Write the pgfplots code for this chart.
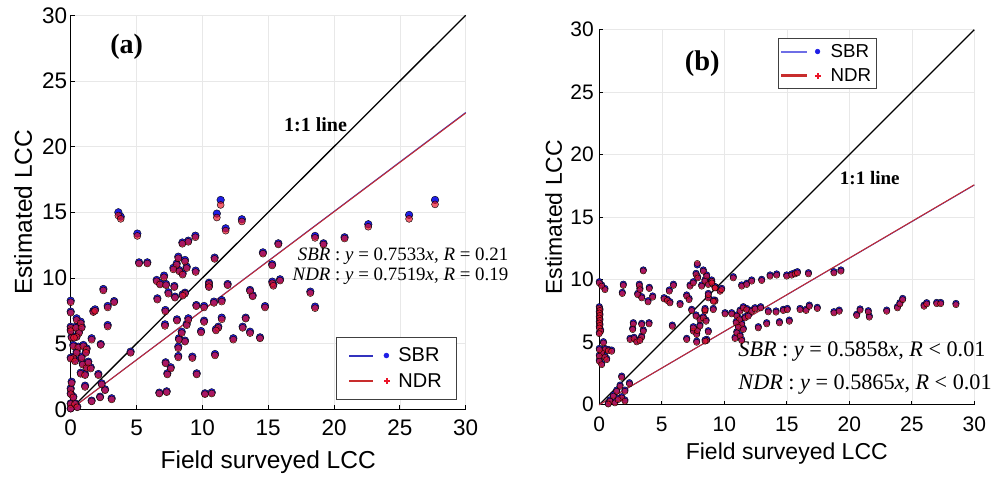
\documentclass[border=0pt]{standalone}
\usepackage{fontspec}
\setmainfont{Liberation Sans}
\newfontfamily\serif{Liberation Serif}
\usepackage{pgfplots}
\pgfplotsset{compat=1.18}
\usepackage{pgfplotstable}

\definecolor{sbrpt}{RGB}{30,30,230}
\definecolor{ndrpt}{RGB}{235,20,40}
\definecolor{sbrln}{RGB}{50,50,190}
\definecolor{sbrlnb}{RGB}{110,110,230}
\definecolor{ndrln}{RGB}{200,45,45}

\pgfplotstableread{
x s n
11.39 15.94 15.56
27.67 15.94 15.6
3.62 15.0 14.75
3.8 14.67 14.5
11.1 14.9 14.6
13.0 14.47 14.3
25.7 14.8 14.5
11.77 13.78 13.6
22.6 14.09 13.9
5.06 13.38 13.2
18.56 13.2 13.05
20.8 13.1 13.0
19.2 12.64 12.55
15.77 12.64 12.55
9.47 13.22 13.1
8.93 12.84 12.75
8.48 12.7 12.6
14.6 11.95 11.85
5.19 11.19 11.1
5.82 11.19 11.1
10.93 11.55 11.45
15.3 11.05 10.95
8.17 11.62 11.5
8.68 11.37 11.25
8.05 11.1 11.0
7.8 10.77 10.65
8.25 10.6 10.5
8.5 10.35 10.25
8.81 10.86 10.75
9.49 10.56 10.45
6.53 9.85 9.75
7.09 10.18 10.05
6.78 9.59 9.5
7.24 9.54 9.45
7.87 9.39 9.3
10.5 9.64 9.55
10.5 9.39 9.3
11.92 9.54 9.45
6.58 8.45 8.35
7.42 8.91 8.8
7.92 8.58 8.5
8.68 8.88 8.8
8.5 8.75 8.65
7.19 7.56 7.45
9.54 7.94 7.85
10.13 7.87 7.75
10.88 8.2 8.1
11.47 8.32 8.2
8.07 6.85 6.75
8.93 6.93 6.8
8.81 6.5 6.4
7.16 6.47 6.35
10.13 6.75 6.65
11.47 6.98 6.85
13.29 6.98 6.9
13.06 6.29 6.2
11.21 6.29 6.2
11.03 6.11 6.0
9.9 5.96 5.85
8.43 5.91 5.8
13.62 5.91 5.8
12.35 5.41 5.3
14.38 5.48 5.4
8.22 5.41 5.3
8.68 5.23 5.15
8.17 4.77 4.65
8.17 4.06 3.95
9.24 4.01 3.9
10.96 4.21 4.1
7.21 3.58 3.5
7.6 3.2 3.1
7.34 2.74 2.65
9.57 2.74 2.65
6.73 1.27 1.2
7.29 1.37 1.3
10.2 1.22 1.15
10.71 1.29 1.2
4.55 4.39 4.3
13.62 9.09 9.0
13.82 8.68 8.6
14.76 7.86 7.75
15.31 9.72 9.6
15.39 9.51 9.4
15.9 9.9 9.8
18.2 8.96 8.85
18.56 7.82 7.7
0 8.27 8.15
0 7.44 7.35
0 6.29 6.2
0 6.04 5.95
0.07 5.53 5.45
0.45 6.93 6.8
0.76 6.67 6.55
0.4 6.29 6.2
0.83 6.29 6.2
0.63 5.91 5.8
0.45 5.58 5.5
0.25 5.53 5.45
0.2 4.9 4.8
0.58 4.77 4.7
0.45 4.39 4.3
0.2 4.01 3.9
0 3.93 3.85
0.33 3.76 3.65
0.96 4.9 4.8
1.21 4.64 4.55
1.59 5.41 5.3
1.72 7.49 7.4
1.85 7.61 7.5
2.28 4.97 4.9
2.48 9.16 9.05
2.81 7.87 7.75
3.3 8.24 8.15
2.81 6.42 6.3
0.83 4.01 3.9
1.16 4.39 4.3
0.91 3.5 3.4
1.21 3.25 3.15
1.34 3.63 3.55
0.76 2.79 2.7
1.52 3.2 3.1
1.09 2.69 2.6
2.1 2.69 2.6
2.35 1.98 1.9
2.61 1.52 1.45
1.09 1.8 1.7
2.23 0.96 0.9
3.11 0.84 0.75
1.59 0.66 0.6
0 1.6 1.5
0 1.22 1.15
0.07 2.1 2.0
0.2 0.96 0.9
0 0.45 0.4
0 0.07 0.05
0.33 0.45 0.4
0.5 0.2 0.15
}\dataA

\pgfplotstableread{
x s n
0 9.84 9.74
0.19 9.58 9.48
0.45 9.3 9.2
0 7.84 7.74
0.05 7.64 7.54
0 7.44 7.34
0.05 7.24 7.14
0 7.04 6.94
0.05 6.84 6.74
0 6.64 6.54
0.05 6.44 6.34
0 6.24 6.14
0.11 5.98 5.88
0 5.78 5.68
0.33 5.04 4.94
0.45 4.5 4.4
0.72 4.42 4.32
0.99 4.37 4.27
0.19 4.24 4.14
0 4.5 4.4
0 3.97 3.87
0.45 3.9 3.8
0 3.57 3.47
0.19 3.3 3.2
0.59 3.7 3.6
1.79 2.29 2.19
2.41 1.76 1.66
1.66 1.57 1.47
1.39 1.17 1.07
2.05 1.17 1.07
1.12 0.78 0.68
1.79 0.64 0.54
0.85 0.38 0.28
0.72 0.11 0.05
2.05 0.38 0.28
1.25 0.24 0.14
1.5 0.5 0.4
3.52 10.78 10.7
1.92 9.64 9.54
1.84 8.99 8.89
3.2 9.64 9.54
3.25 9.3 9.2
3.07 8.9 8.8
3.39 8.64 8.54
4.0 9.39 9.29
4.27 8.7 8.6
3.9 8.32 8.22
5.18 8.56 8.46
5.44 8.43 8.33
5.65 8.24 8.14
5.6 9.18 9.08
5.93 9.64 9.54
6.46 8.1 8.0
2.72 6.56 6.46
2.67 6.11 6.01
3.39 6.51 6.41
3.52 5.98 5.88
3.98 6.56 6.46
2.46 5.31 5.21
2.78 5.39 5.29
2.99 5.12 5.02
3.39 5.49 5.39
3.25 5.23 5.13
5.84 6.37 6.27
6.99 8.78 8.68
7.26 9.58 9.48
7.18 8.5 8.4
7.84 11.18 11.3
7.74 10.51 10.41
7.87 10.24 10.14
8.32 10.78 10.68
8.59 10.38 10.28
8.45 9.98 9.88
8.72 9.71 9.61
8.99 9.98 9.88
9.25 9.45 9.35
7.52 9.84 9.74
8.19 9.58 9.48
7.39 7.63 7.53
7.74 7.18 7.08
8.05 6.9 6.8
8.45 7.57 7.47
8.32 7.04 6.94
8.54 6.77 6.67
9.12 7.7 7.6
9.25 8.37 8.27
8.72 8.64 8.54
7.52 5.98 5.88
7.79 5.71 5.61
7.84 6.03 5.93
8.05 6.38 6.28
8.72 5.92 5.82
6.99 5.31 5.21
7.79 5.09 4.99
8.59 5.23 5.13
7.52 6.24 6.14
9.0 9.84 9.74
9.26 9.44 9.34
9.66 9.17 9.07
8.72 8.9 8.8
9.12 8.37 8.27
8.46 7.7 7.6
8.46 5.18 5.08
9.79 9.31 9.21
10.72 10.24 10.14
11.39 9.58 9.48
11.79 9.71 9.61
12.19 9.98 9.88
12.99 10.03 9.93
13.66 10.38 10.28
14.19 10.46 10.36
14.99 10.38 10.28
15.39 10.46 10.36
15.66 10.56 10.46
15.85 10.64 10.54
16.73 10.56 10.46
18.77 10.64 10.54
19.33 10.78 10.68
10.06 7.36 7.26
10.59 7.36 7.26
11.26 7.57 7.47
11.52 7.84 7.74
11.79 7.7 7.6
12.19 7.57 7.47
12.46 7.76 7.66
12.91 7.84 7.74
13.52 7.52 7.42
14.14 7.5 7.4
14.72 7.63 7.53
15.04 7.7 7.6
16.06 7.7 7.6
16.54 7.63 7.53
16.8 7.97 7.87
17.44 7.79 7.69
18.77 7.44 7.34
19.19 7.57 7.47
20.59 7.23 7.13
20.86 7.66 7.56
21.52 7.52 7.42
21.6 7.1 7.0
22.99 7.57 7.47
23.85 7.84 7.74
24.05 8.16 8.06
24.27 8.5 8.4
25.98 7.97 7.87
26.19 8.16 8.06
26.99 8.18 8.08
27.31 8.18 8.08
28.53 8.1 8.0
11.0 7.18 7.08
11.21 6.9 6.8
10.95 6.64 6.54
11.39 6.51 6.41
11.12 6.3 6.2
11.52 6.11 6.01
11.0 5.84 5.74
11.26 5.58 5.48
10.86 5.39 5.29
11.39 5.23 5.13
11.66 7.04 6.94
11.92 7.18 7.08
12.72 6.24 6.14
13.39 6.56 6.46
14.41 6.64 6.54
15.2 6.77 6.67
}\dataB

\pgfplotsset{
  myax/.style={
    scale only axis, xmin=0, xmax=30, ymin=0, ymax=30,
    xtick={0,5,...,30}, ytick={0,5,...,30},
    axis x line*=bottom, axis y line*=left,
    grid=major, grid style={gray!18, line width=0.5pt},
    axis line style={black, line width=1pt},
    tick align=inside, major tick length=4pt,
    tick style={black, line width=0.8pt},
    clip=false,
    /pgf/number format/assume math mode=true,
    xlabel={Field surveyed LCC}, ylabel={Estimated LCC},
    legend cell align=left,
  },
}

\begin{document}
\begin{tikzpicture}
\useasboundingbox (0,0) rectangle (995pt,478pt);

% ---------------- panel (a)
\begin{axis}[myax,
  at={(70.7pt,68.7pt)}, anchor=south west,
  width=395pt, height=394pt,
  tick label style={font=\fontsize{22.5}{27}\selectfont},
  xticklabel style={yshift=-7pt},
  label style={font=\fontsize{24.5}{29}\selectfont},
  xlabel style={at={(axis description cs:0.5,-0.149)}, anchor=base},
  ylabel style={at={(axis description cs:-0.098,0.5)}, anchor=base},
  legend style={at={(0.978,0.024)}, anchor=south east, draw=black!75,
    line width=0.6pt, font=\fontsize{20}{24}\selectfont,
    nodes={inner sep=2pt},
    inner xsep=13pt, inner ysep=9pt, row sep=6pt},
]
\addplot[only marks, mark=*, mark size=3.8pt, mark options={draw=none, fill=sbrpt}, forget plot] table[x=x, y=s] {\dataA};
\addplot[only marks, mark=*, mark size=3.5pt, mark options={draw=none, fill=ndrpt, fill opacity=0.68}, forget plot] table[x=x, y=n] {\dataA};
\addplot[black, line width=1.3pt, forget plot] coordinates {(0,0) (30,30)};
\addplot[sbrln, line width=1pt, forget plot] coordinates {(0,0) (30,22.599)};
\addplot[ndrln, line width=1pt, forget plot] coordinates {(0,0) (30,22.557)};
\addlegendimage{legend image code/.code={
  \path[draw=none, fill=none] (0pt,-3pt) rectangle (47pt,3pt);
  \fill[sbrln] (0pt,-0.7pt) rectangle (23pt,0.7pt);
  \fill[sbrpt] (37pt,0pt) circle (2.4pt);}}
\addlegendentry{SBR}
\addlegendimage{legend image code/.code={
  \path[draw=none, fill=none] (0pt,-3pt) rectangle (47pt,3pt);
  \fill[ndrln] (0pt,-0.7pt) rectangle (23pt,0.7pt);
  \fill[ndrpt] (34.5pt,-0.5pt) rectangle (39.5pt,0.5pt);
  \fill[ndrpt] (36.5pt,-2.5pt) rectangle (37.5pt,2.5pt);}}
\addlegendentry{NDR}
\node[font=\serif\bfseries\fontsize{28}{32}\selectfont] at (axis cs:4.25,27.6) {(a)};
\node[font=\serif\bfseries\fontsize{20}{24}\selectfont] at (axis cs:18.6,21.64) {1:1 line};
\node[anchor=base east, font=\serif\fontsize{18.9}{22}\selectfont] at (axis cs:33.5,11.36)
  {\textit{SBR} : \textit{y} = 0.7533\textit{x}, \textit{R} = 0.21};
\node[anchor=base east, font=\serif\fontsize{18.9}{22}\selectfont] at (axis cs:33.5,9.84)
  {\textit{NDR} : \textit{y} = 0.7519\textit{x}, \textit{R} = 0.19};
\end{axis}

% ---------------- panel (b)
\begin{axis}[myax,
  at={(599.3pt,73.3pt)}, anchor=south west,
  width=375pt, height=375pt,
  tick label style={font=\fontsize{21}{25}\selectfont},
  xticklabel style={yshift=-9pt},
  yticklabel style={xshift=-2pt},
  label style={font=\fontsize{23}{27}\selectfont},
  xlabel style={at={(axis description cs:0.5,-0.147)}, anchor=base},
  ylabel style={at={(axis description cs:-0.0995,0.5)}, anchor=base},
  legend style={at={(0.4765,0.978)}, anchor=north west, draw=black!75,
    line width=0.6pt, font=\fontsize{18.7}{22}\selectfont,
    nodes={inner sep=2pt},
    inner xsep=3pt, inner ysep=4pt, row sep=5.5pt},
]
\addplot[only marks, mark=*, mark size=3.3pt, mark options={draw=none, fill=sbrpt}, forget plot] table[x=x, y=s] {\dataB};
\addplot[only marks, mark=*, mark size=3.1pt, mark options={draw=none, fill=ndrpt, fill opacity=0.68}, forget plot] table[x=x, y=n] {\dataB};
\addplot[black, line width=1.3pt, forget plot] coordinates {(0,0) (30,30)};
\addplot[sbrln, line width=1pt, forget plot] coordinates {(0,0) (30,17.574)};
\addplot[ndrln, line width=1pt, forget plot] coordinates {(0,0) (30,17.595)};
\addlegendimage{legend image code/.code={
  \path[draw=none, fill=none] (0pt,-3pt) rectangle (47pt,3pt);
  \fill[sbrlnb] (0pt,-0.6pt) rectangle (25pt,0.6pt);
  \fill[sbrpt] (36pt,0pt) circle (2.3pt);}}
\addlegendentry{SBR}
\addlegendimage{legend image code/.code={
  \path[draw=none, fill=none] (0pt,-3pt) rectangle (47pt,3pt);
  \fill[ndrln] (0pt,-0.7pt) rectangle (25pt,0.7pt);
  \fill[ndrpt] (33.5pt,-0.5pt) rectangle (38.5pt,0.5pt);
  \fill[ndrpt] (35.5pt,-2.5pt) rectangle (36.5pt,2.5pt);}}
\addlegendentry{NDR}
\node[font=\serif\bfseries\fontsize{28.5}{32}\selectfont] at (axis cs:8.23,27.29) {(b)};
\node[font=\serif\bfseries\fontsize{19}{23}\selectfont] at (axis cs:21.64,18.1) {1:1 line};
\node[anchor=base west, font=\serif\fontsize{22.2}{26}\selectfont] at (axis cs:10.85,3.89)
  {\textit{SBR} : \textit{y} = 0.5858\textit{x}, \textit{R} < 0.01};
\node[anchor=base west, font=\serif\fontsize{22.2}{26}\selectfont] at (axis cs:10.85,1.25)
  {\textit{NDR} : \textit{y} = 0.5865\textit{x}, \textit{R} < 0.01};
\end{axis}
\end{tikzpicture}
\end{document}
